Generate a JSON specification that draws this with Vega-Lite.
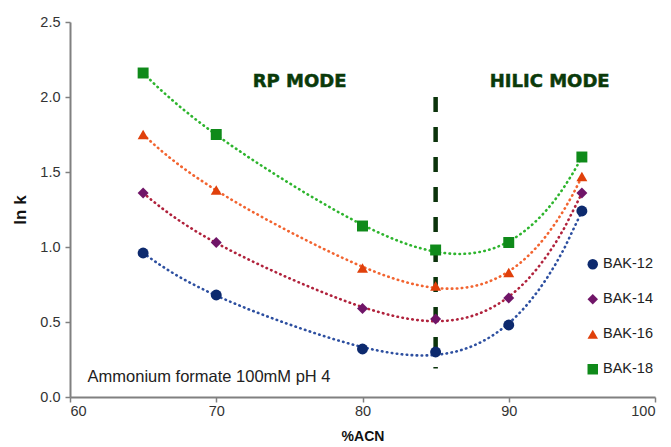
{
  "$schema": "https://vega.github.io/schema/vega-lite/v6.json",
  "width": 585,
  "height": 375,
  "autosize": {"type": "none"},
  "padding": {"left": 70, "top": 22, "right": 16, "bottom": 50},
  "background": "white",
  "config": {
    "view": {"stroke": null},
    "font": "Liberation Sans",
    "axis": {
      "grid": false,
      "domainColor": "#808080",
      "domainWidth": 2,
      "tickColor": "#808080",
      "tickWidth": 1.5,
      "tickSize": 5,
      "labelFont": "Liberation Sans",
      "labelFontSize": 14.5,
      "labelColor": "#333333",
      "titleFont": "Liberation Sans",
      "titleColor": "#111111",
      "titleFontWeight": "bold"
    }
  },
  "datasets": {
    "pts": [
      {"series": "BAK-12", "curve": "fit BAK-12", "acn": 65, "lnk": 0.96},
      {"series": "BAK-12", "curve": "fit BAK-12", "acn": 70, "lnk": 0.68},
      {"series": "BAK-12", "curve": "fit BAK-12", "acn": 80, "lnk": 0.32},
      {"series": "BAK-12", "curve": "fit BAK-12", "acn": 85, "lnk": 0.30},
      {"series": "BAK-12", "curve": "fit BAK-12", "acn": 90, "lnk": 0.48},
      {"series": "BAK-12", "curve": "fit BAK-12", "acn": 95, "lnk": 1.24},
      {"series": "BAK-14", "curve": "fit BAK-14", "acn": 65, "lnk": 1.36},
      {"series": "BAK-14", "curve": "fit BAK-14", "acn": 70, "lnk": 1.03},
      {"series": "BAK-14", "curve": "fit BAK-14", "acn": 80, "lnk": 0.59},
      {"series": "BAK-14", "curve": "fit BAK-14", "acn": 85, "lnk": 0.52},
      {"series": "BAK-14", "curve": "fit BAK-14", "acn": 90, "lnk": 0.66},
      {"series": "BAK-14", "curve": "fit BAK-14", "acn": 95, "lnk": 1.36},
      {"series": "BAK-16", "curve": "fit BAK-16", "acn": 65, "lnk": 1.75},
      {"series": "BAK-16", "curve": "fit BAK-16", "acn": 70, "lnk": 1.38},
      {"series": "BAK-16", "curve": "fit BAK-16", "acn": 80, "lnk": 0.86},
      {"series": "BAK-16", "curve": "fit BAK-16", "acn": 85, "lnk": 0.74},
      {"series": "BAK-16", "curve": "fit BAK-16", "acn": 90, "lnk": 0.83},
      {"series": "BAK-16", "curve": "fit BAK-16", "acn": 95, "lnk": 1.47},
      {"series": "BAK-18", "curve": "fit BAK-18", "acn": 65, "lnk": 2.16},
      {"series": "BAK-18", "curve": "fit BAK-18", "acn": 70, "lnk": 1.75},
      {"series": "BAK-18", "curve": "fit BAK-18", "acn": 80, "lnk": 1.14},
      {"series": "BAK-18", "curve": "fit BAK-18", "acn": 85, "lnk": 0.98},
      {"series": "BAK-18", "curve": "fit BAK-18", "acn": 90, "lnk": 1.03},
      {"series": "BAK-18", "curve": "fit BAK-18", "acn": 95, "lnk": 1.60}
    ],
    "labels": [
      {"acn": 75.7, "lnk": 2.1, "text": "RP MODE"},
      {"acn": 92.8, "lnk": 2.1, "text": "HILIC MODE"}
    ],
    "note": [
      {"acn": 61.2, "lnk": 0.133, "text": "Ammonium formate 100mM pH 4"}
    ],
    "divider": [
      {"acn": 85, "top": 2.0, "bottom": 0.19}
    ]
  },
  "layer": [
    {
      "data": {"name": "divider"},
      "mark": {"type": "rule", "color": "#0b330b", "strokeWidth": 4.5, "strokeDash": [15, 15]},
      "encoding": {
        "x": {"field": "acn", "type": "quantitative", "scale": {"domain": [60, 100], "nice": false}},
        "y": {"field": "top", "type": "quantitative", "scale": {"domain": [0, 2.5], "nice": false}},
        "y2": {"field": "bottom"}
      }
    },
    {
      "data": {"name": "pts"},
      "transform": [
        {"regression": "lnk", "on": "acn", "groupby": ["curve"], "method": "poly", "order": 4, "extent": [65, 95]}
      ],
      "mark": {"type": "line", "strokeWidth": 2.6, "strokeDash": [0.5, 4.5], "strokeCap": "round"},
      "encoding": {
        "x": {"field": "acn", "type": "quantitative"},
        "y": {"field": "lnk", "type": "quantitative"},
        "stroke": {
          "field": "curve", "type": "nominal", "legend": null,
          "scale": {"domain": ["fit BAK-12", "fit BAK-14", "fit BAK-16", "fit BAK-18"], "range": ["#2d4fa0", "#b0223c", "#f26430", "#2db42d"]}
        }
      }
    },
    {
      "data": {"name": "pts"},
      "mark": {"type": "point", "filled": true, "opacity": 1, "size": 120},
      "encoding": {
        "x": {
          "field": "acn", "type": "quantitative",
          "scale": {"domain": [60, 100], "nice": false},
          "axis": {"values": [60, 70, 80, 90, 100], "title": "%ACN", "titleFontSize": 14, "labelPadding": 2, "titlePadding": 12}
        },
        "y": {
          "field": "lnk", "type": "quantitative",
          "scale": {"domain": [0, 2.5], "nice": false},
          "axis": {"values": [0, 0.5, 1, 1.5, 2, 2.5], "format": ".1f", "title": "ln k", "titleFontSize": 17, "labelPadding": 5, "titlePadding": 10}
        },
        "color": {
          "field": "series", "type": "nominal", "title": "",
          "scale": {"domain": ["BAK-12", "BAK-14", "BAK-16", "BAK-18"], "range": ["#0d2a6e", "#701568", "#e0400b", "#0f8a1a"]},
          "legend": {
            "orient": "none", "legendX": 515.5, "legendY": 235, "padding": 0,
            "labelFontSize": 14.5, "labelColor": "#222222", "labelFont": "Liberation Sans",
            "rowPadding": 20, "symbolSize": 110, "labelOffset": 3
          }
        },
        "shape": {
          "field": "series", "type": "nominal", "title": "",
          "scale": {"domain": ["BAK-12", "BAK-14", "BAK-16", "BAK-18"], "range": ["circle", "diamond", "triangle-up", "square"]}
        }
      }
    },
    {
      "data": {"name": "labels"},
      "mark": {"type": "text", "font": "DejaVu Sans", "fontWeight": "bold", "fontSize": 18, "color": "#0a3a0a", "stroke": "#0a3a0a", "strokeWidth": 0.5, "align": "center", "baseline": "middle"},
      "encoding": {
        "x": {"field": "acn", "type": "quantitative"},
        "y": {"field": "lnk", "type": "quantitative"},
        "text": {"field": "text"}
      }
    },
    {
      "data": {"name": "note"},
      "mark": {"type": "text", "font": "Liberation Sans", "fontSize": 16.5, "color": "#222222", "align": "left", "baseline": "middle"},
      "encoding": {
        "x": {"field": "acn", "type": "quantitative"},
        "y": {"field": "lnk", "type": "quantitative"},
        "text": {"field": "text"}
      }
    }
  ]
}
